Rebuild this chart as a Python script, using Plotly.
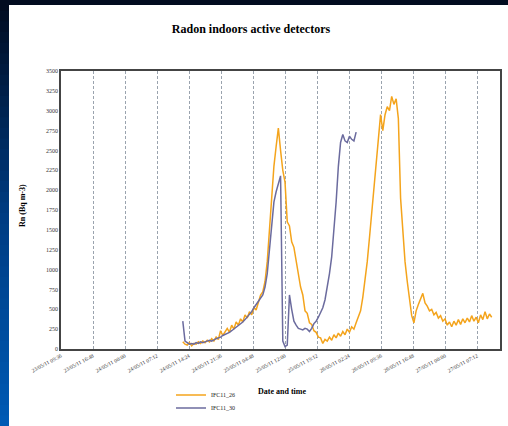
import pandas as pd
import plotly.graph_objects as go

# ---------------- data ----------------
series_names = ["IFC11_26", "IFC11_30"]
start_time = "2011-05-24 13:00"
step = "30min"

ifc11_26 = [
    90, 60, 50, 80, 40, 70, 60, 90, 70, 100,
    80, 110, 90, 130, 100, 150, 120, 230, 170, 210,
    260, 210, 300, 250, 340, 300, 380, 340, 430, 390,
    470, 430, 520, 490, 600, 680, 720, 850, 1100, 1500,
    1950, 2300, 2550, 2780, 2500, 2250, 2100, 1600, 1550, 1350,
    1280, 1120, 980, 780, 680, 480, 450, 330, 310, 230,
    210, 150, 140, 70, 120, 100, 150, 110, 180, 140,
    200, 160, 220, 180, 250, 210, 280, 250, 330, 400,
    480, 650, 850, 1100, 1400, 1700, 2000, 2350, 2700, 2950,
    2750, 2950, 3050, 3000, 3180, 3080, 3150, 2900, 1900, 1450,
    1100, 850, 600, 420, 330, 480, 560, 620, 700, 580,
    540, 480, 500, 430, 460, 390, 420, 350, 380, 300,
    340, 280, 350, 300, 370, 310, 380, 330, 390, 340,
    420, 350, 400, 330, 430, 370, 470, 380, 440, 400,
]

ifc11_30 = [
    350, 100, 80, 60, 70, 60, 80, 70, 90, 80,
    90, 100, 110, 100, 120, 130, 140, 150, 170, 180,
    200, 210, 230, 250, 270, 290, 320, 340, 370, 400,
    430, 470, 520, 560, 600, 640, 680, 780, 950, 1250,
    1600, 1850, 1980, 2100, 2180, 100, 30, 50, 680, 500,
    350, 300, 260, 250, 240, 260, 250, 220, 260, 320,
    350, 400, 460, 520, 620, 780, 950, 1160, 1500, 1850,
    2300, 2600, 2700, 2620, 2600, 2680, 2640, 2620, 2730,
]

x_range = ["2011-05-23 09:36", "2011-05-27 12:22"]
x_tick0 = "2011-05-23 09:36"
x_dtick_ms = 7.2 * 3600 * 1000
y_range = [0, 3500]
y_dtick = 250

title_text = "<b>Radon indoors active detectors</b>"
y_title = "<b>Rn (Bq m-3)</b>"
x_title = "<b>Date and time</b>"

# ---------------- layout geometry ----------------
W, H = 508, 426
ML, MR, MT, MB = 61, 8, 71, 77
PW = W - ML - MR
PH = H - MT - MB


def px_x(px):
    return (px - ML) / PW


def px_y(py):
    return (H - MB - py) / PH


t26 = pd.date_range(start_time, periods=len(ifc11_26), freq=step)
t30 = pd.date_range(start_time, periods=len(ifc11_30), freq=step)

serif = "Liberation Serif, Times New Roman, serif"

fig = go.Figure()
fig.add_trace(go.Scatter(x=t26, y=ifc11_26, mode="lines", name=series_names[0],
                         line=dict(color="#F4A41C", width=1.5), legend="legend"))
fig.add_trace(go.Scatter(x=t30, y=ifc11_30, mode="lines", name=series_names[1],
                         line=dict(color="#6B6B9E", width=1.5), legend="legend2"))

# background gradient bands + white panel
shapes = []
n_bands = 40
top_c = (2, 12, 32)
mid_c = (0, 60, 130)
bot_c = (0, 90, 180)
for i in range(n_bands):
    f = i / (n_bands - 1)
    if f < 0.5:
        g = f / 0.5
        c = tuple(int(top_c[j] + (mid_c[j] - top_c[j]) * g) for j in range(3))
    else:
        g = (f - 0.5) / 0.5
        c = tuple(int(mid_c[j] + (bot_c[j] - mid_c[j]) * g) for j in range(3))
    y0 = H * i / n_bands
    y1 = H * (i + 1) / n_bands + 1
    shapes.append(dict(type="rect", xref="paper", yref="paper", layer="below",
                       x0=px_x(-2), x1=px_x(W + 2), y0=px_y(y1), y1=px_y(y0),
                       fillcolor="rgb(%d,%d,%d)" % c, line=dict(width=0)))
shapes.append(dict(type="rect", xref="paper", yref="paper", layer="below",
                   x0=px_x(9), x1=px_x(W + 2), y0=px_y(H + 2), y1=px_y(5),
                   fillcolor="white", line=dict(width=0)))

legend_common = dict(xanchor="left", yanchor="middle", bgcolor="rgba(0,0,0,0)",
                     font=dict(family=serif, size=6, color="#222"),
                     itemwidth=30, borderwidth=0)

fig.update_layout(
    width=W, height=H,
    margin=dict(l=ML, r=MR, t=MT, b=MB, autoexpand=False),
    paper_bgcolor="rgb(2,12,32)",
    plot_bgcolor="white",
    shapes=shapes,
    font=dict(family=serif, color="black"),
    title=dict(text=title_text, x=px_x(251), xref="paper", xanchor="center",
               y=1 - 29 / H, yref="container", yanchor="middle",
               font=dict(family=serif, size=12, color="black")),
    showlegend=True,
    legend=dict(x=px_x(171), y=px_y(395), **legend_common),
    legend2=dict(x=px_x(171), y=px_y(408), **legend_common),
    annotations=[
        dict(text=y_title, xref="paper", yref="paper", x=px_x(22), y=px_y(206),
             textangle=-90, showarrow=False, font=dict(family=serif, size=8, color="black"),
             xanchor="center", yanchor="middle"),
        dict(text=x_title, xref="paper", yref="paper", x=px_x(282), y=px_y(391),
             showarrow=False, font=dict(family=serif, size=8, color="black"),
             xanchor="center", yanchor="middle"),
    ],
)

fig.update_xaxes(
    type="date", range=x_range, tick0=x_tick0, dtick=x_dtick_ms,
    tickformat="%d/%m/%y %H:%M", tickangle=-28,
    tickfont=dict(family=serif, size=5.5, color="#333"),
    showgrid=True, gridcolor="#9AA3AE", gridwidth=1, griddash="3px,2px",
    showline=True, linecolor="#444", linewidth=1.5, mirror=True,
    ticks="", zeroline=False, automargin=False,
)
fig.update_yaxes(
    range=y_range, dtick=y_dtick, tick0=0,
    tickfont=dict(family=serif, size=6, color="#333"),
    showgrid=False, showline=True, linecolor="#444", linewidth=1.5, mirror=True,
    ticks="", zeroline=False, automargin=False,
)

fig.write_html("out.html")
